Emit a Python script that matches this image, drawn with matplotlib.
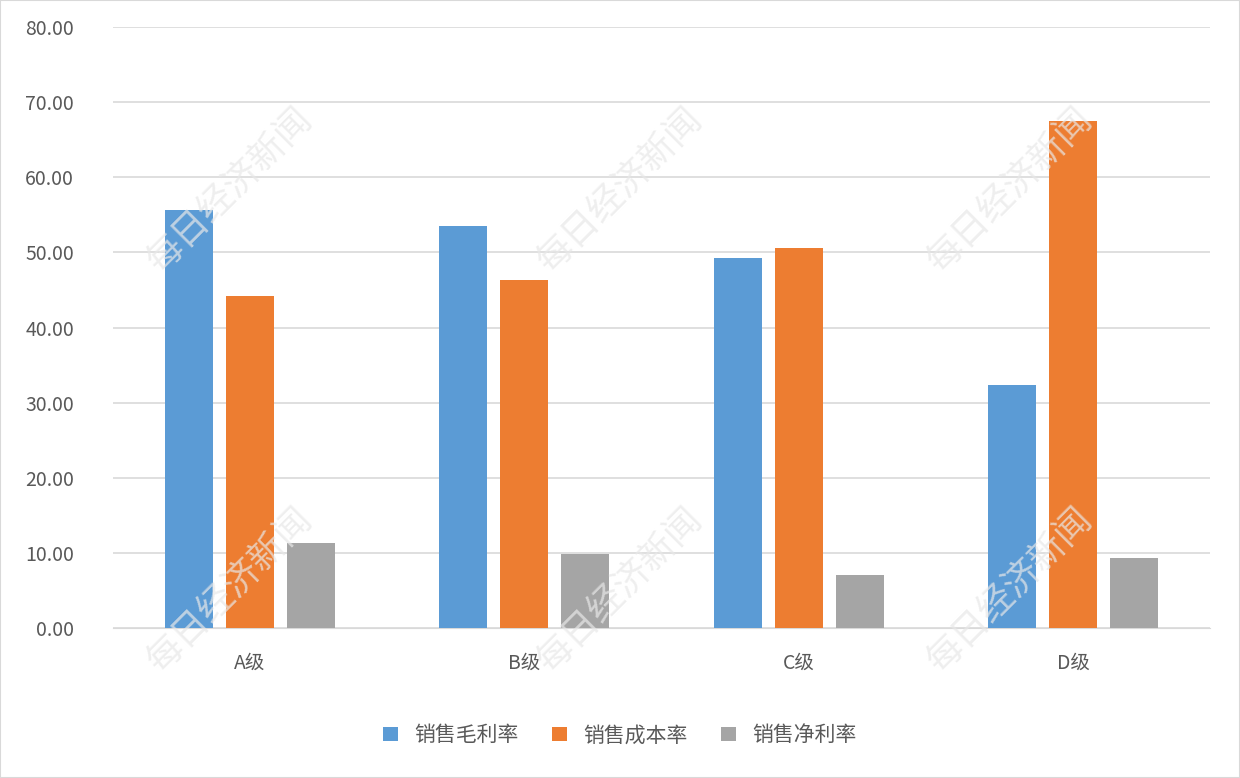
import matplotlib
matplotlib.use("Agg")
import matplotlib.pyplot as plt
import numpy as np

plt.rcParams['font.family'] = ['Noto Sans CJK SC', 'DejaVu Sans']

categories = ["A级", "B级", "C级", "D级"]
series_names = ["销售毛利率", "销售成本率", "销售净利率"]
gross = [55.7, 53.5, 49.3, 32.4]
cost = [44.2, 46.3, 50.6, 67.5]
net = [11.3, 9.9, 7.0, 9.3]
colors = ["#5B9BD5", "#ED7D31", "#A5A5A5"]

fig = plt.figure(figsize=(12.4, 7.78), dpi=100)
ax = fig.add_axes([0.091, 0.193, 0.885, 0.772])
x = np.arange(len(categories))
w = 0.175
off = 0.222
for i, (vals, name) in enumerate(zip([gross, cost, net], series_names)):
    ax.bar(x + (i - 1) * off, vals, w, color=colors[i], label=name, zorder=3)

ax.set_xlim(-0.5, 3.5)
ax.set_ylim(0, 80)
ax.set_yticks(np.arange(0, 81, 10))
ax.set_yticklabels([f"{v:.2f}" for v in np.arange(0, 81, 10)], fontsize=14, color="#595959")
ax.set_xticks(x)
ax.set_xticklabels(categories, fontsize=14, color="#595959")
ax.yaxis.grid(True, color="#D9D9D9", linewidth=1.2, zorder=0)
for s in ["top", "right", "left"]:
    ax.spines[s].set_visible(False)
ax.spines["bottom"].set_color("#D9D9D9")
ax.tick_params(length=0, pad=18)
ax.tick_params(axis='y', pad=28)

fig.legend(loc="center", bbox_to_anchor=(0.5, 0.055), ncol=3, frameon=False,
           fontsize=15, handlelength=0.7, handleheight=0.7, columnspacing=1.6,
           labelcolor="#595959")

for (px, py) in [(230, 190), (620, 190), (1010, 190), (230, 590), (620, 590), (1010, 590)]:
    fig.text(px / 1240, 1 - py / 778, "每日经济新闻", fontsize=26, color="#E8E8E8",
             rotation=45, ha="center", va="center", alpha=0.7, zorder=10)

fig.patches.append(plt.Rectangle((0, 0), 1, 1, transform=fig.transFigure,
                                 fill=False, edgecolor="#D9D9D9", linewidth=1.5))
fig.savefig("out.png", dpi=100)
